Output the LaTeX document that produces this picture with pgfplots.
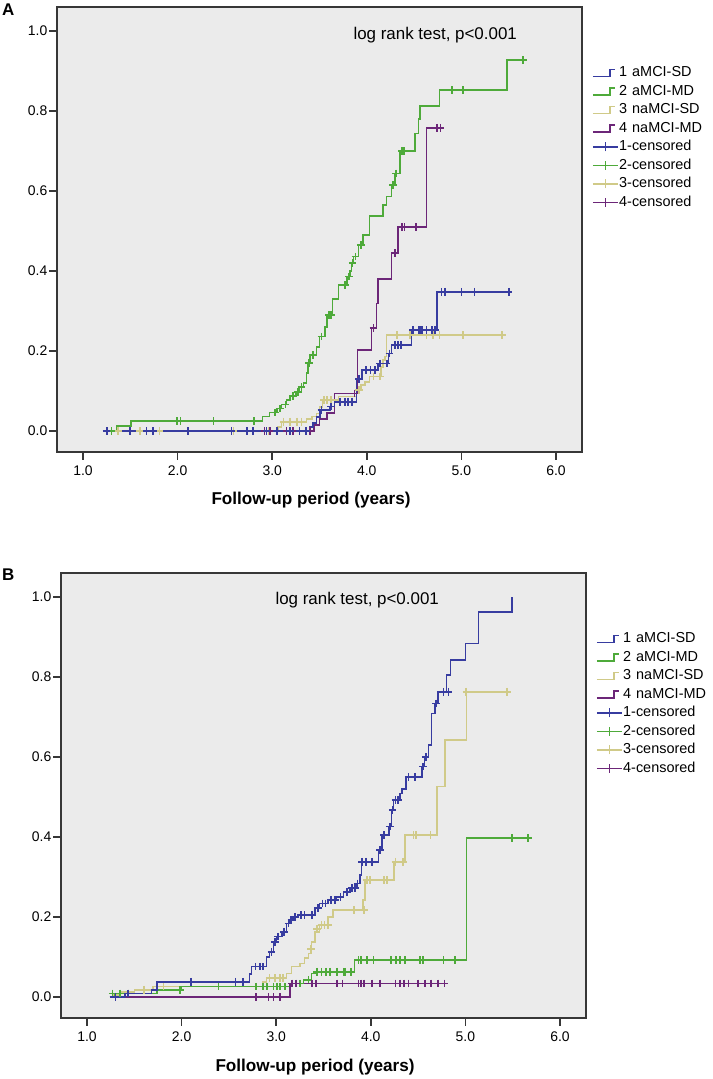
\documentclass[border=0pt]{standalone}
\usepackage{pgfplots}
\pgfplotsset{compat=1.18}
\usepackage{fontspec}
\setmainfont{Liberation Sans}
\definecolor{cblue}{RGB}{55,60,160}
\definecolor{cgreen}{RGB}{78,170,58}
\definecolor{ctan}{RGB}{208,202,136}
\definecolor{cpurple}{RGB}{108,38,120}
\definecolor{bgc}{RGB}{235,235,235}
\definecolor{axc}{RGB}{55,55,55}

\pgfplotsset{
  kmaxis/.style={
    scale only axis, width=525bp, height=445bp,
    xmin=0.725, xmax=6.275, ymin=-0.0525, ymax=1.06,
    xtick={1,2,3,4,5,6}, xticklabels={1.0,2.0,3.0,4.0,5.0,6.0},
    ytick={0,0.2,0.4,0.6,0.8,1.0}, yticklabels={0.0,0.2,0.4,0.6,0.8,1.0},
    axis background/.style={fill=bgc},
    axis line style={line width=2bp, draw=axc},
    tick style={line width=1.5bp, draw=axc},
    major tick length=8bp,
    tick align=outside, xtick pos=bottom, ytick pos=left,
    ticklabel style={font=\fontsize{14}{16}\selectfont},
    yticklabel style={inner sep=1.5bp},
    xticklabel shift=2bp,
    clip=false,
    legend style={at={(1.019,0.8697)}, anchor=north west, draw=none, fill=none,
      font=\fontsize{14.5}{17}\selectfont, row sep=3bp, inner sep=0pt,
      nodes={inner sep=0.5bp, text height=11bp, text depth=3.5bp}},
    legend cell align=left,
  },
  kmline/.style={const plot, line width=1.5bp, mark=none, forget plot},
  kmcens/.style={only marks, mark=+, mark size=3.8bp, mark options={line width=1.7bp}, forget plot},
  steplg/.style={legend image code/.code={\draw[##1, mark=none] (0bp,-3.5bp) -- (17bp,-3.5bp) -- (17bp,3.5bp) -- (22bp,3.5bp); \path (25bp,0bp);}},
  censlg/.style={legend image code/.code={\draw[##1, mark=none] (0bp,0bp) -- (25bp,0bp); \draw[##1, mark=none] (12.5bp,-4.5bp) -- (12.5bp,4.5bp);}},
}

\begin{document}
\begin{tikzpicture}
\useasboundingbox (0bp,0bp) rectangle (713bp,1079bp);

% ---------------- Panel A ----------------
\begin{axis}[kmaxis, at={(57bp,627bp)}, anchor=south west]
% tan
\addplot[kmline, ctan] coordinates {(1.26,0) (3.06,0.01) (3.10,0.023) (3.36,0.03) (3.42,0.036) (3.47,0.044) (3.50,0.06) (3.53,0.0775) (3.70,0.086) (3.89,0.1025) (3.94,0.115) (3.98,0.123) (4.03,0.136) (4.15,0.16) (4.17,0.1775) (4.19,0.186) (4.21,0.24) (5.44,0.24)};
\addplot[kmcens, ctan] coordinates {(1.26,0) (1.37,0) (1.60,0) (1.81,0) (2.59,0) (2.96,0) (3.12,0.023) (3.19,0.023) (3.26,0.023) (3.31,0.023) (3.55,0.0775) (3.58,0.0775) (3.62,0.0775) (3.92,0.1025) (4.07,0.136) (4.14,0.136) (4.32,0.24) (4.46,0.24) (4.63,0.24) (4.70,0.24) (4.77,0.24) (5.02,0.24) (5.43,0.24)};
% green
\addplot[kmline, cgreen] coordinates {(1.29,0) (1.356,0.013) (1.507,0.025) (2.90,0.036) (2.97,0.046) (3.05,0.056) (3.10,0.066) (3.15,0.078) (3.19,0.088) (3.25,0.098) (3.29,0.11) (3.33,0.12) (3.36,0.145) (3.38,0.17) (3.40,0.19) (3.47,0.21) (3.50,0.236) (3.56,0.26) (3.58,0.29) (3.64,0.33) (3.70,0.365) (3.79,0.386) (3.82,0.40) (3.84,0.42) (3.86,0.436) (3.91,0.465) (3.96,0.49) (4.03,0.5375) (4.17,0.565) (4.21,0.586) (4.26,0.615) (4.30,0.644) (4.35,0.70) (4.51,0.744) (4.545,0.78) (4.56,0.8125) (4.77,0.8525) (5.48,0.9275) (5.65,0.9275)};
\addplot[kmcens, cgreen] coordinates {(1.30,0) (1.99,0.025) (2.03,0.025) (2.38,0.025) (2.81,0.025) (3.03,0.046) (3.08,0.056) (3.14,0.066) (3.22,0.088) (3.27,0.098) (3.31,0.11) (3.39,0.17) (3.43,0.19) (3.52,0.236) (3.60,0.29) (3.62,0.29) (3.77,0.365) (3.81,0.386) (3.85,0.42) (3.88,0.436) (3.94,0.465) (4.28,0.615) (4.31,0.644) (4.37,0.70) (4.39,0.70) (4.90,0.8525) (5.02,0.8525) (5.65,0.9275)};
% purple
\addplot[kmline, cpurple] coordinates {(1.85,0) (3.44,0.015) (3.50,0.03) (3.58,0.045) (3.66,0.094) (3.90,0.2025) (4.05,0.257) (4.10,0.319) (4.12,0.38) (4.26,0.445) (4.33,0.51) (4.63,0.758) (4.81,0.758)};
\addplot[kmcens, cpurple] coordinates {(2.92,0) (2.98,0) (3.05,0) (3.15,0) (3.19,0) (3.22,0) (3.36,0) (3.40,0) (3.87,0.094) (4.07,0.257) (4.30,0.445) (4.37,0.51) (4.40,0.51) (4.52,0.51) (4.74,0.758) (4.78,0.758)};
% blue
\addplot[kmline, cblue] coordinates {(1.21,0) (3.40,0.01) (3.43,0.02) (3.47,0.035) (3.505,0.0525) (3.61,0.061) (3.66,0.073) (3.89,0.13) (3.95,0.1525) (4.12,0.169) (4.23,0.194) (4.26,0.215) (4.47,0.2525) (4.74,0.348) (5.50,0.348)};
\addplot[kmcens, cblue] coordinates {(1.25,0) (1.50,0) (1.67,0) (1.74,0) (2.11,0) (2.57,0) (2.73,0) (2.80,0) (2.94,0) (3.05,0) (3.19,0) (3.29,0) (3.36,0) (3.52,0.0525) (3.62,0.061) (3.72,0.073) (3.77,0.073) (3.80,0.073) (3.84,0.073) (3.92,0.13) (3.99,0.1525) (4.04,0.1525) (4.09,0.1525) (4.14,0.169) (4.21,0.169) (4.24,0.194) (4.30,0.215) (4.33,0.215) (4.36,0.215) (4.49,0.2525) (4.545,0.2525) (4.56,0.2525) (4.58,0.2525) (4.63,0.2525) (4.69,0.2525) (4.72,0.2525) (4.79,0.348) (4.83,0.348) (5.00,0.348) (5.14,0.348) (5.50,0.348)};
% legend
\addlegendimage{steplg, cblue, line width=1.5bp}
\addlegendentry{1\hspace{5bp}aMCI-SD}
\addlegendimage{steplg, cgreen, line width=1.5bp}
\addlegendentry{2\hspace{5bp}aMCI-MD}
\addlegendimage{steplg, ctan, line width=1.5bp}
\addlegendentry{3\hspace{5bp}naMCI-SD}
\addlegendimage{steplg, cpurple, line width=1.5bp}
\addlegendentry{4\hspace{5bp}naMCI-MD}
\addlegendimage{censlg, cblue, line width=1.5bp}
\addlegendentry{1-censored}
\addlegendimage{censlg, cgreen, line width=1.5bp}
\addlegendentry{2-censored}
\addlegendimage{censlg, ctan, line width=1.5bp}
\addlegendentry{3-censored}
\addlegendimage{censlg, cpurple, line width=1.5bp}
\addlegendentry{4-censored}
\end{axis}

% ---------------- Panel B ----------------
\begin{axis}[kmaxis, at={(61bp,61bp)}, anchor=south west]
% tan
\addplot[kmline, ctan] coordinates {(1.27,0.005) (1.35,0.013) (1.50,0.018) (1.70,0.026) (2.86,0.038) (2.90,0.047) (3.11,0.059) (3.16,0.076) (3.25,0.084) (3.30,0.097) (3.34,0.109) (3.375,0.138) (3.41,0.163) (3.46,0.18) (3.55,0.20) (3.60,0.2175) (3.92,0.2425) (3.94,0.2925) (4.245,0.338) (4.36,0.405) (4.70,0.526) (4.785,0.6425) (5.01,0.763) (5.44,0.763)};
\addplot[kmcens, ctan] coordinates {(1.60,0.018) (1.81,0.026) (2.93,0.047) (2.99,0.047) (3.04,0.047) (3.07,0.047) (3.37,0.12) (3.43,0.17) (3.48,0.18) (3.51,0.18) (3.55,0.18) (3.82,0.2175) (3.93,0.2175) (3.96,0.2925) (3.99,0.2925) (4.14,0.2925) (4.17,0.2925) (4.26,0.338) (4.34,0.338) (4.45,0.405) (4.48,0.405) (4.63,0.405) (5.01,0.763) (5.44,0.763)};
% green
\addplot[kmline, cgreen] coordinates {(1.25,0) (1.29,0.009) (1.74,0.0175) (2.0,0.026) (3.145,0.034) (3.29,0.0425) (3.375,0.059) (3.42,0.063) (3.83,0.0925) (5.01,0.397) (5.665,0.397)};
\addplot[kmcens, cgreen] coordinates {(1.27,0.009) (1.35,0.009) (1.43,0.009) (1.98,0.0175) (2.39,0.026) (2.79,0.026) (2.86,0.026) (2.90,0.026) (2.97,0.026) (3.01,0.026) (3.04,0.026) (3.09,0.026) (3.25,0.034) (3.34,0.0425) (3.43,0.063) (3.48,0.063) (3.53,0.063) (3.57,0.063) (3.64,0.063) (3.71,0.063) (3.73,0.063) (3.79,0.063) (3.87,0.0925) (3.90,0.0925) (3.96,0.0925) (4.03,0.0925) (4.21,0.0925) (4.27,0.0925) (4.31,0.0925) (4.36,0.0925) (4.52,0.0925) (4.55,0.0925) (4.77,0.0925) (4.89,0.0925) (5.49,0.397) (5.665,0.397)};
% purple
\addplot[kmline, cpurple] coordinates {(1.24,0) (3.145,0.034) (4.82,0.034)};
\addplot[kmcens, cpurple] coordinates {(2.79,0) (2.92,0) (2.97,0) (3.04,0) (3.17,0.034) (3.21,0.034) (3.38,0.034) (3.42,0.034) (3.64,0.034) (3.70,0.034) (3.87,0.034) (3.90,0.034) (3.93,0.034) (4.01,0.034) (4.10,0.034) (4.26,0.034) (4.31,0.034) (4.35,0.034) (4.40,0.034) (4.50,0.034) (4.57,0.034) (4.64,0.034) (4.71,0.034) (4.78,0.034)};
% blue
\addplot[kmline, cblue] coordinates {(1.24,0) (1.40,0.009) (1.68,0.018) (1.74,0.038) (2.72,0.058) (2.74,0.076) (2.90,0.10) (2.93,0.113) (2.97,0.138) (3.005,0.151) (3.06,0.163) (3.11,0.184) (3.145,0.1925) (3.18,0.20) (3.23,0.205) (3.41,0.222) (3.46,0.234) (3.55,0.2425) (3.64,0.25) (3.71,0.263) (3.78,0.272) (3.85,0.284) (3.885,0.305) (3.90,0.338) (4.08,0.3675) (4.12,0.405) (4.19,0.426) (4.22,0.4675) (4.24,0.4925) (4.31,0.509) (4.33,0.52) (4.37,0.55) (4.54,0.576) (4.57,0.60) (4.61,0.63) (4.64,0.709) (4.68,0.734) (4.71,0.763) (4.80,0.805) (4.84,0.8425) (5.00,0.884) (5.14,0.963) (5.49,1.0)};
\addplot[kmcens, cblue] coordinates {(1.30,0) (1.43,0.009) (2.10,0.038) (2.57,0.038) (2.65,0.038) (2.78,0.076) (2.83,0.076) (2.86,0.076) (2.95,0.113) (2.99,0.138) (3.02,0.151) (3.08,0.163) (3.13,0.184) (3.16,0.1925) (3.20,0.20) (3.26,0.205) (3.30,0.205) (3.38,0.205) (3.44,0.222) (3.49,0.234) (3.52,0.234) (3.58,0.2425) (3.62,0.2425) (3.68,0.25) (3.75,0.263) (3.80,0.272) (3.83,0.272) (3.86,0.284) (3.91,0.338) (3.95,0.338) (4.01,0.338) (4.10,0.3675) (4.14,0.405) (4.20,0.426) (4.23,0.4675) (4.26,0.4925) (4.29,0.4925) (4.40,0.55) (4.47,0.55) (4.55,0.576) (4.58,0.60) (4.69,0.734) (4.77,0.763) (4.82,0.763)};
% legend
\addlegendimage{steplg, cblue, line width=1.5bp}
\addlegendentry{1\hspace{5bp}aMCI-SD}
\addlegendimage{steplg, cgreen, line width=1.5bp}
\addlegendentry{2\hspace{5bp}aMCI-MD}
\addlegendimage{steplg, ctan, line width=1.5bp}
\addlegendentry{3\hspace{5bp}naMCI-SD}
\addlegendimage{steplg, cpurple, line width=1.5bp}
\addlegendentry{4\hspace{5bp}naMCI-MD}
\addlegendimage{censlg, cblue, line width=1.5bp}
\addlegendentry{1-censored}
\addlegendimage{censlg, cgreen, line width=1.5bp}
\addlegendentry{2-censored}
\addlegendimage{censlg, ctan, line width=1.5bp}
\addlegendentry{3-censored}
\addlegendimage{censlg, cpurple, line width=1.5bp}
\addlegendentry{4-censored}
\end{axis}

% texts
\node[font=\fontsize{17}{20}\selectfont, anchor=west] at (350bp,1044bp) {log rank test, p<0.001};
\node[font=\fontsize{17}{20}\selectfont, anchor=west] at (272bp,479bp) {log rank test, p<0.001};
\node[font=\bfseries\fontsize{17.2}{20}\selectfont] at (311bp,579bp) {Follow-up period (years)};
\node[font=\bfseries\fontsize{17.2}{20}\selectfont] at (315bp,12bp) {Follow-up period (years)};
\node[font=\bfseries\fontsize{17}{20}\selectfont, anchor=west, inner sep=0pt] at (2bp,1069bp) {A};
\node[font=\bfseries\fontsize{17}{20}\selectfont, anchor=west, inner sep=0pt] at (2bp,504bp) {B};
\end{tikzpicture}
\end{document}
